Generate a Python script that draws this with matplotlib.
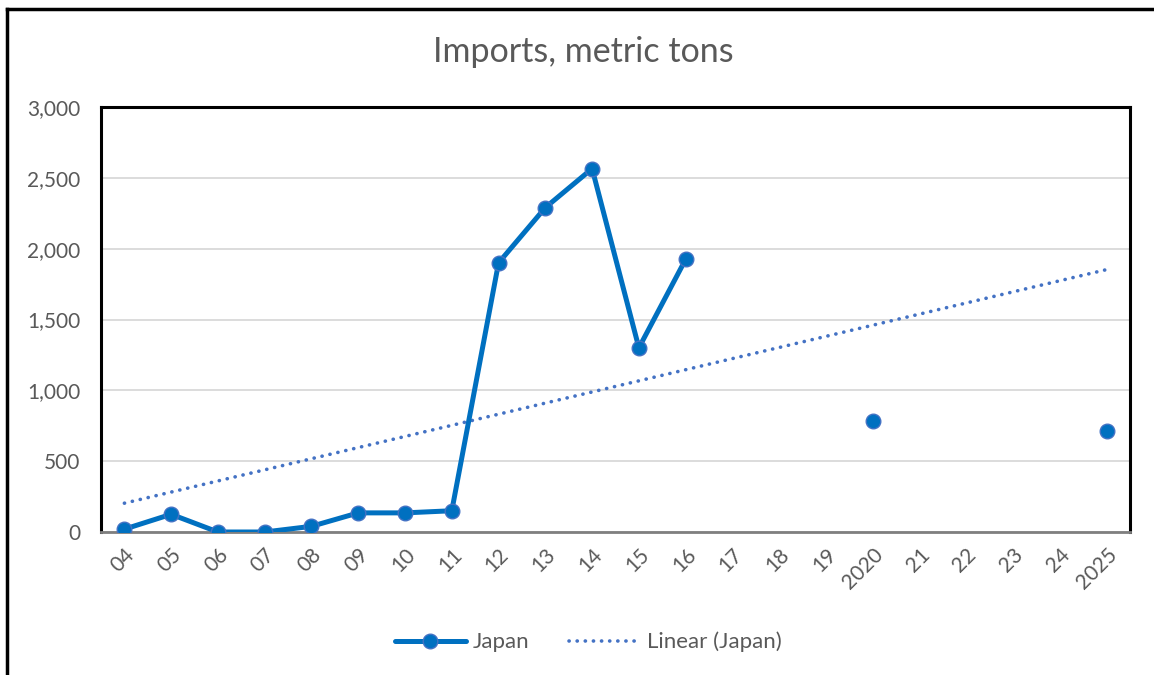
import numpy as np
import matplotlib
matplotlib.use("Agg")
import matplotlib.pyplot as plt
from matplotlib.lines import Line2D

plt.rcParams['font.family'] = ['Lato', 'DejaVu Sans']

categories = ['04', '05', '06', '07', '08', '09', '10', '11', '12', '13', '14',
              '15', '16', '17', '18', '19', '2020', '21', '22', '23', '24', '2025']
japan = [20, 125, 0, 0, 40, 135, 135, 150, 1900, 2290, 2565, 1300, 1925,
         None, None, None, 785, None, None, None, None, 710]

line_color = '#0070C0'
trend_color = '#4472C4'
text_color = '#595959'

x = np.arange(len(categories))
y = np.array([np.nan if v is None else v for v in japan], dtype=float)

# Excel-style linear trendline over the points that exist
mask = ~np.isnan(y)
slope, intercept = np.polyfit(x[mask], y[mask], 1)
trend = slope * x + intercept

fig = plt.figure(figsize=(11.54, 6.75), dpi=100)
ax = fig.add_axes([101 / 1154, 1 - 532 / 675, 1029 / 1154, 425 / 675])

ax.plot(x, y, color=line_color, lw=3.6, marker='o', ms=10.5,
        mfc=line_color, mec=trend_color, mew=1, label='Japan', zorder=3,
        solid_capstyle='round')
ax.plot(x, trend, color=trend_color, lw=2.6, linestyle=(0, (0.05, 2.2)),
        dash_capstyle='round', label='Linear (Japan)', zorder=2)

ax.set_xlim(-0.5, len(categories) - 0.5)
ax.set_ylim(0, 3000)
ax.set_yticks(np.arange(0, 3001, 500))
ax.set_yticklabels([f'{v:,}' for v in range(0, 3001, 500)])
ax.set_xticks(x)
ax.set_xticklabels(categories, rotation=45, ha='right', rotation_mode='anchor')
ax.tick_params(axis='both', length=0, labelsize=15, colors=text_color)
ax.tick_params(axis='x', pad=9)
ax.tick_params(axis='y', pad=15)
ax.grid(axis='y', color='#D9D9D9', lw=1.3)
ax.set_axisbelow(True)

for side in ['top', 'left', 'right']:
    ax.spines[side].set_color('black')
    ax.spines[side].set_linewidth(2.2)
ax.spines['bottom'].set_color('#7F7F7F')
ax.spines['bottom'].set_linewidth(2)

fig.text(583 / 1154, 1 - 52 / 675, 'Imports, metric tons', ha='center', va='center',
         fontsize=24.5, color=text_color)

leg = ax.legend(loc='center', bbox_to_anchor=(588 / 1154, 1 - 642 / 675),
                bbox_transform=fig.transFigure, ncol=2, frameon=False,
                fontsize=16, handlelength=3.2, columnspacing=1.8, handletextpad=0.3)
for t in leg.get_texts():
    t.set_color(text_color)

# outer chart border (top and left visible)
fig.add_artist(Line2D([7 / 1154, 1], [1 - 9 / 675, 1 - 9 / 675],
                      transform=fig.transFigure, color='black', lw=2.5))
fig.add_artist(Line2D([7 / 1154, 7 / 1154], [0, 1 - 9 / 675],
                      transform=fig.transFigure, color='black', lw=2.5))

fig.savefig('out.png', dpi=100)
